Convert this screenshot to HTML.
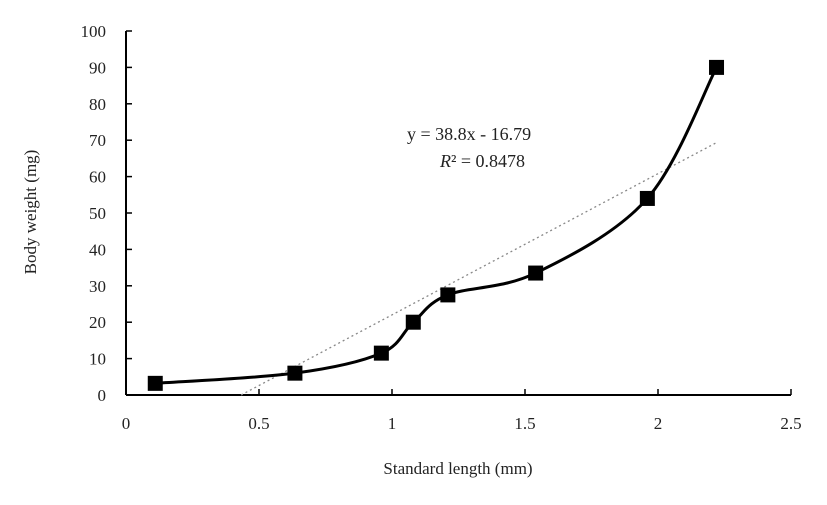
<!DOCTYPE html>
<html><head><meta charset="utf-8"><style>
body{margin:0;background:#fff;}
svg text{font-family:"Liberation Serif",serif;fill:#222;}
</style></head><body>
<svg width="827" height="500" xmlns="http://www.w3.org/2000/svg">
<g id="axes"></g><g id="marks"></g>
<text x="407" y="140" font-size="18">y = 38.8x - 16.79</text>
<text x="440" y="167" font-size="18"><tspan font-style="italic">R</tspan>² = 0.8478</text>
<text x="458" y="474" font-size="17" text-anchor="middle">Standard length (mm)</text>
<text transform="translate(36,212) rotate(-90)" font-size="17" text-anchor="middle">Body weight (mg)</text>
</svg>
<script>
const xVals=[0.11,0.635,0.96,1.08,1.21,1.54,1.96,2.22];
const yVals=[3.2,6,11.5,20,27.5,33.5,54,90];
const xTicks=[0,0.5,1,1.5,2,2.5];
const xTickLabels=["0","0.5","1","1.5","2","2.5"];
const yTicks=[0,10,20,30,40,50,60,70,80,90,100];
const slope=38.8, intercept=-16.79;
const X=v=>126+v*266, Y=v=>395-v*3.64;
const NS="http://www.w3.org/2000/svg";
const ax=document.getElementById('axes'), mk=document.getElementById('marks');
function el(t,a,p){const e=document.createElementNS(NS,t);for(const k in a)e.setAttribute(k,a[k]);p.appendChild(e);return e;}
let l=el('line',{x1:X(0),y1:Y(0),x2:X(2.5),y2:Y(0),stroke:'#000','stroke-width':2},ax);


l=el('line',{x1:X(0),y1:Y(0),x2:X(0),y2:Y(100),stroke:'#000','stroke-width':2},ax);


xTicks.forEach((v,i)=>{
 const t=el('line',{x1:X(v),y1:Y(0),x2:X(v),y2:Y(0)-6,stroke:'#000','stroke-width':1.5},ax);
 
 
 const tx=el('text',{x:X(v),y:429,'font-size':17,'text-anchor':'middle'},ax);tx.textContent=xTickLabels[i];
 
 
});
yTicks.forEach(v=>{
 const t=el('line',{x1:X(0),y1:Y(v),x2:X(0)+6,y2:Y(v),stroke:'#000','stroke-width':1.5},ax);
 
 
 const tx=el('text',{x:106,y:Y(v)+6,'font-size':17,'text-anchor':'end'},ax);tx.textContent=v;
 
 
});
const x0=-intercept/slope, x1=xVals[xVals.length-1];
const tl=el('line',{x1:X(x0),y1:Y(0),x2:X(x1),y2:Y(slope*x1+intercept),stroke:'#888','stroke-width':1.3,'stroke-dasharray':'2,3'},mk);


const P=xVals.map((v,i)=>[X(v),Y(yVals[i])]);
let d=`M${P[0][0]},${P[0][1]}`;
for(let i=0;i<P.length-1;i++){
 const p0=P[i-1]||P[i],p1=P[i],p2=P[i+1],p3=P[i+2]||P[i+1],k=1/6;
 d+=` C${p1[0]+(p2[0]-p0[0])*k},${p1[1]+(p2[1]-p0[1])*k} ${p2[0]-(p3[0]-p1[0])*k},${p2[1]-(p3[1]-p1[1])*k} ${p2[0]},${p2[1]}`;
}
const c=el('path',{d:d,fill:'none',stroke:'#000','stroke-width':3},mk);


P.forEach(p=>{
 const r=el('rect',{x:p[0]-7.5,y:p[1]-7.5,width:15,height:15,fill:'#000'},mk);
 
 
});
</script>
</body></html>
